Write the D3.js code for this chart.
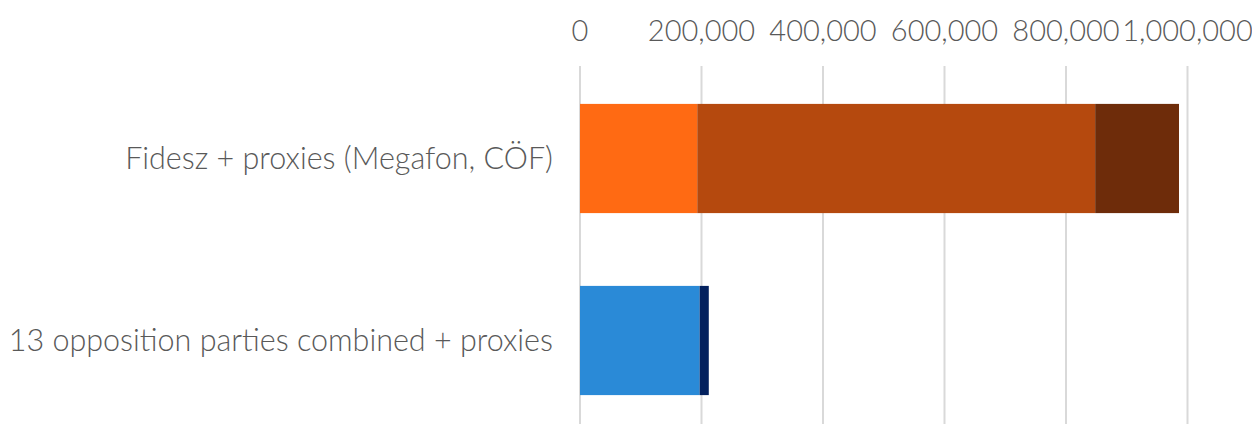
<!DOCTYPE html>
<html>
<head>
    <meta charset="utf-8">
    <script src="https://cdn.jsdelivr.net/npm/d3@7"></script>
    <style>
        body { margin: 0; background: #fff; }
        text { font-family: Lato, "Noto Sans", sans-serif; font-weight: 300; fill: #595959; }
    </style>
</head>
<body>
    <div id="chart"></div>
    <script>
        // categories (top to bottom)
        var categories = ["Fidesz + proxies (Megafon, CÖF)", "13 opposition parties combined + proxies"];
        // stacked segments per category, left to right
        var fideszValues = [193000, 655000, 138000];
        var oppositionValues = [197000, 15000];
        var fideszColors = ["#ff6a13", "#b5490e", "#6e2c0a"];
        var oppositionColors = ["#2a8ad7", "#03215e"];
        var tickValues = [0, 200000, 400000, 600000, 800000, 1000000];

        var width = 1252, height = 424;
        var margin = { top: 66, right: 64.5, bottom: 0, left: 580 };

        var svg = d3.select("#chart").append("svg")
            .attr("width", width)
            .attr("height", height);

        var x = d3.scaleLinear()
            .domain([0, 1000000])
            .range([margin.left, width - margin.right]);

        var y = d3.scaleBand()
            .domain(categories)
            .range([67.5, 431.5])
            .paddingInner(0.4)
            .paddingOuter(0.2);

        // gridlines
        svg.append("g")
            .selectAll("line")
            .data(tickValues)
            .enter()
            .append("line")
            .attr("x1", function (d) { return x(d); })
            .attr("x2", function (d) { return x(d); })
            .attr("y1", margin.top)
            .attr("y2", height)
            .attr("stroke", "#d9d9d9")
            .attr("stroke-width", 2);

        // top tick labels
        svg.append("g")
            .selectAll("text")
            .data(tickValues)
            .enter()
            .append("text")
            .attr("x", function (d) { return x(d); })
            .attr("y", 41)
            .attr("text-anchor", "middle")
            .style("font-size", "29px")
            .text(function (d) { return d3.format(",")(d); });

        // build stacked segments
        var rows = [
            { cat: categories[0], values: fideszValues, colors: fideszColors },
            { cat: categories[1], values: oppositionValues, colors: oppositionColors }
        ];
        var segs = [];
        rows.forEach(function (r) {
            var acc = 0;
            r.values.forEach(function (v, i) {
                segs.push({ cat: r.cat, x0: acc, x1: acc + v, color: r.colors[i] });
                acc += v;
            });
        });

        svg.append("g")
            .selectAll("rect")
            .data(segs)
            .enter()
            .append("rect")
            .attr("x", function (d) { return x(d.x0); })
            .attr("width", function (d) { return x(d.x1) - x(d.x0); })
            .attr("y", function (d) { return y(d.cat); })
            .attr("height", y.bandwidth())
            .attr("fill", function (d) { return d.color; });

        // category labels
        svg.append("g")
            .selectAll("text")
            .data(categories)
            .enter()
            .append("text")
            .attr("x", margin.left - 27)
            .attr("y", function (d) { return y(d) + y.bandwidth() / 2; })
            .attr("dy", "0.35em")
            .attr("text-anchor", "end")
            .style("font-size", "30.5px")
            .text(function (d) { return d; });
    </script>
</body>
</html>
